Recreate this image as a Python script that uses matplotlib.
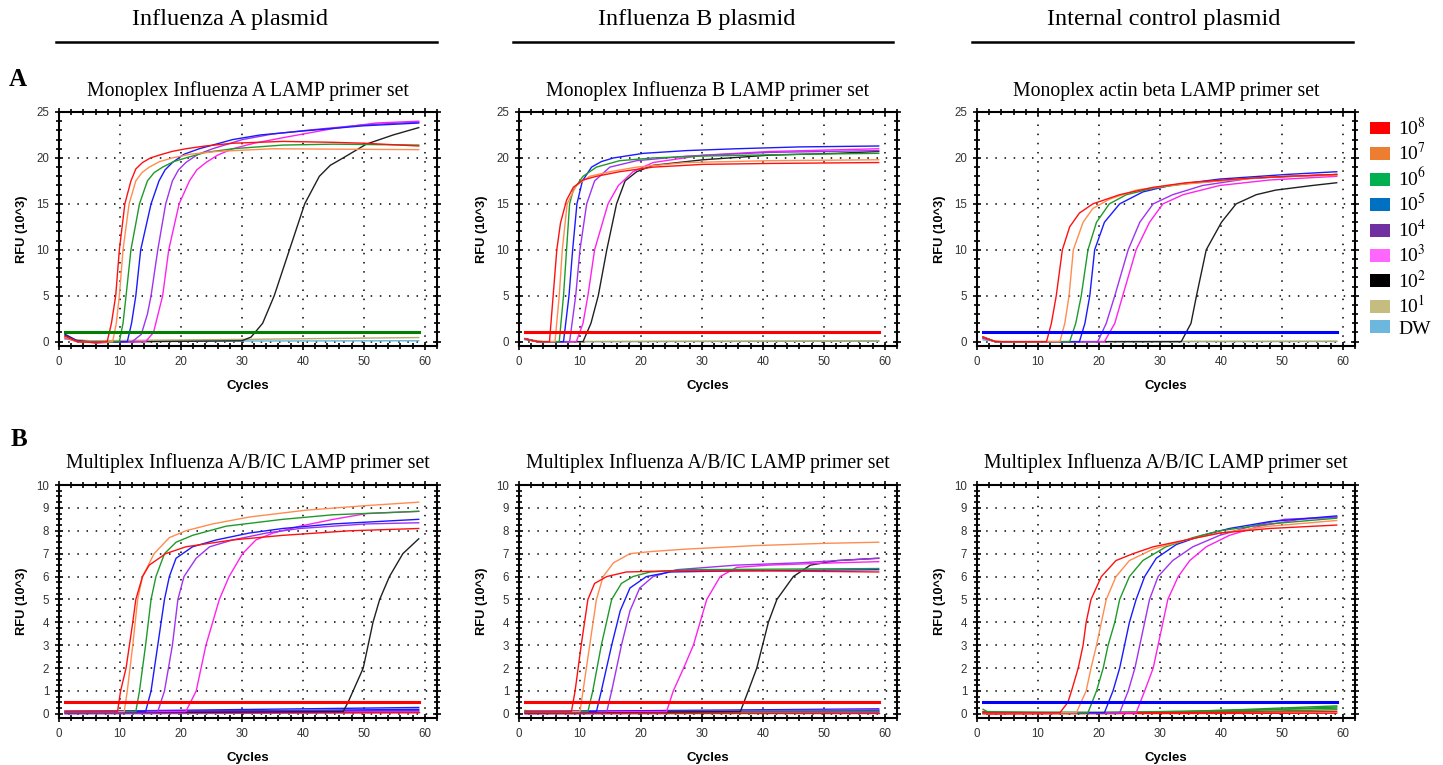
import matplotlib
matplotlib.use('Agg')
import matplotlib.pyplot as plt
from matplotlib.patches import Patch
from matplotlib.ticker import MultipleLocator

# dilution series, legend labels and colours
series = ['1e8', '1e7', '1e6', '1e5', '1e4', '1e3', '1e2', '1e1', 'DW']
legend_labels = ['10$^{8}$', '10$^{7}$', '10$^{6}$', '10$^{5}$', '10$^{4}$',
                 '10$^{3}$', '10$^{2}$', '10$^{1}$', 'DW']
legend_colors = ['#FF0000', '#ED7D31', '#00B050', '#0070C0', '#7030A0',
                 '#FF66FF', '#000000', '#C4BD7F', '#6DB6DE']
line_colors = {'1e8': '#FF1010', '1e7': '#FF8C50', '1e6': '#1E9A2A', '1e5': '#1A1AFF',
               '1e4': '#A033F0', '1e3': '#FF22EE', '1e2': '#202020',
               '1e1': '#B5AC6A', 'DW': '#5FB4DE'}

col_titles = ['Influenza A plasmid', 'Influenza B plasmid', 'Internal control plasmid']
panel_titles = [['Monoplex Influenza A LAMP primer set',
                 'Monoplex Influenza B LAMP primer set',
                 'Monoplex actin beta LAMP primer set'],
                ['Multiplex Influenza A/B/IC LAMP primer set'] * 3]

# curves: (cycle, RFU x10^3)
monoA = {
    '1e8': [(1, 0.6), (3, 0.0), (6, -0.1), (7.9, 0.0), (8.6, 2), (9.3, 5), (9.9, 10), (10.8, 15),
            (11.8, 17.5), (12.6, 18.8), (13.7, 19.5), (15, 20.0), (16.4, 20.3), (18.5, 20.7),
            (20.8, 21.0), (24, 21.3), (28.5, 21.6), (36.7, 21.8), (45, 21.7), (50, 21.6), (59, 21.3)],
    '1e7': [(1, 0.5), (3, 0.0), (6, -0.1), (8.8, 0.0), (9.4, 2), (9.9, 5), (10.5, 10), (11.5, 15),
            (12.6, 17.5), (13.6, 18.4), (14.8, 19.0), (16.5, 19.6), (18.6, 20.0), (21.5, 20.4),
            (25.8, 20.7), (35, 21.0), (59, 20.9)],
    '1e6': [(1, 0.5), (3, 0.0), (6, -0.1), (9.9, 0.0), (10.5, 2), (11, 5), (11.8, 10), (13.2, 15),
            (14.5, 17.5), (15.6, 18.4), (17, 19), (18.8, 19.6), (20.8, 20), (24, 20.6),
            (28.5, 21), (36.7, 21.4), (45, 21.5), (59, 21.4)],
    '1e5': [(1, 0.7), (3, 0.05), (6, -0.1), (11.2, 0.0), (11.9, 2), (12.6, 5), (13.4, 10), (15.1, 15),
            (16.4, 17.5), (17.4, 18.7), (18.6, 19.5), (20.5, 20.4), (23, 21), (28.5, 22),
            (33, 22.5), (39.5, 22.9), (50, 23.5), (59, 23.8)],
    '1e4': [(1, 0.6), (3, 0.05), (6, -0.1), (12, 0.0), (13.5, 0.8), (14.5, 3), (15.1, 5), (16.2, 10),
            (17.5, 15), (18.6, 17.5), (19.6, 18.7), (20.8, 19.5), (22.8, 20.4), (25.2, 21),
            (30.1, 22), (35, 22.6), (40.5, 23), (50, 23.6), (59, 23.9)],
    '1e3': [(1, 0.4), (3, 0.0), (6, -0.1), (14.2, 0.0), (15.5, 1), (17, 5), (18, 10), (19.7, 15),
            (21.4, 17.5), (22.6, 18.7), (24.1, 19.5), (26, 20.3), (28.5, 21), (32, 21.6),
            (36.7, 22.2), (45, 23.2), (52, 23.8), (59, 24.0)],
    '1e2': [(1, 0.8), (3, 0.1), (6, -0.05), (30, 0.1), (31.5, 0.5), (33.4, 2), (35.3, 5), (37.8, 10),
            (40.3, 15), (42.7, 18), (44.5, 19.2), (46.6, 20), (50.4, 21.5), (54.8, 22.5), (59, 23.3)],
    '1e1': [(1, 0.3), (5, 0.1), (30, 0.25), (59, 0.45)],
    'DW': [(1, 0.3), (5, 0.05), (59, 0.1)],
}
monoB = {
    '1e8': [(1, 0.3), (3, 0.0), (5, 0.0), (5.6, 5), (6.2, 10), (6.8, 12.9), (7.8, 15.4), (8.9, 16.8),
            (10.5, 17.6), (12.7, 18), (16.5, 18.5), (22, 19), (30.2, 19.3), (41.2, 19.4), (59, 19.5)],
    '1e7': [(1, 0.3), (3, 0.0), (5.9, 0.0), (6.6, 5), (7.1, 10), (7.9, 15), (9.4, 17), (11.6, 18),
            (14.9, 18.5), (19.3, 19), (27.5, 19.5), (41, 19.7), (59, 19.8)],
    '1e6': [(1, 0.3), (3, 0.0), (6.6, 0.0), (7.3, 5), (7.8, 10), (8.3, 15), (8.9, 16.5), (10.5, 18),
            (12.7, 19), (16.5, 19.7), (22, 20), (30, 20.2), (46, 20.4), (59, 20.5)],
    '1e5': [(1, 0.35), (3, 0.0), (7.3, 0.0), (8.2, 5), (8.8, 10), (9.5, 15), (10.4, 17.5), (11.9, 19),
            (13.5, 19.6), (15.5, 20), (20.4, 20.5), (27.5, 20.8), (35.7, 21), (46, 21.2), (59, 21.3)],
    '1e4': [(1, 0.3), (3, 0.0), (8.3, 0.0), (9.3, 5), (10, 10), (11.1, 15), (12.4, 17.5), (14.9, 19),
            (19.3, 19.7), (27.5, 20.2), (41, 20.6), (59, 20.8)],
    '1e3': [(1, 0.3), (3, 0.0), (9.4, 0.0), (10.5, 2), (11.3, 5), (12.4, 10), (14.6, 15), (16.3, 17),
            (18.7, 18.5), (22, 19.5), (30.2, 20.3), (41, 20.7), (59, 21.0)],
    '1e2': [(1, 0.3), (3, 0.0), (10.5, 0.0), (11.8, 2), (13, 5), (14.4, 10), (16, 15), (17.4, 17.5),
            (19.3, 18.5), (22, 19.2), (30.2, 19.8), (41, 20.3), (52, 20.5), (59, 20.7)],
    '1e1': [(1, 0.3), (4, 0.0), (59, 0.1)],
    'DW': [(1, 0.2), (4, 0.0), (59, 0.05)],
}
monoIC = {
    '1e8': [(1, 0.5), (3, 0.0), (11.4, 0.0), (12.2, 2), (13, 5), (14, 10), (15.2, 12.5), (16.8, 14),
            (19, 15), (23.4, 16), (28.9, 16.8), (34.3, 17.3), (42.5, 17.7), (50.7, 18), (59, 18.2)],
    '1e7': [(1, 0.5), (3, 0.0), (13.6, 0.0), (14.4, 2), (15.1, 5), (15.8, 10), (17.4, 13), (19, 14.5),
            (21.7, 15.5), (26.1, 16.5), (31.6, 17), (39.8, 17.5), (50, 18), (59, 18.1)],
    '1e6': [(1, 0.5), (3, 0.0), (15.2, 0.0), (16.2, 2), (17.1, 5), (18.2, 10), (19.6, 13), (21.7, 15),
            (24.5, 16), (28.9, 16.7), (34.3, 17.2), (45, 17.8), (59, 18.2)],
    '1e5': [(1, 0.5), (3, 0.0), (16.8, 0.0), (17.7, 2), (18.5, 5), (19.3, 10), (20.9, 13), (23.4, 15),
            (27.2, 16.3), (31.6, 17), (39.8, 17.7), (50.7, 18.2), (59, 18.5)],
    '1e4': [(1, 0.4), (3, 0.0), (19.8, 0.0), (21.2, 2), (22.6, 5), (24.8, 10), (26.7, 13), (28.9, 15),
            (32.1, 16), (37, 17), (45, 17.8), (59, 18.2)],
    '1e3': [(1, 0.4), (3, 0.0), (20.9, 0.0), (22.6, 2), (23.9, 5), (26.1, 10), (28.3, 13), (30.5, 15),
            (33.8, 16), (39.8, 17), (48, 17.6), (59, 18.0)],
    '1e2': [(1, 0.5), (3, 0.0), (33.5, 0.0), (35.1, 2), (36, 5), (37.6, 10), (40.1, 13), (42.5, 15),
            (45.8, 16), (49, 16.5), (55, 17), (59, 17.3)],
    '1e1': [(1, 0.3), (4, 0.0), (59, 0.05)],
    'DW': [(1, 0.2), (4, 0.0), (59, 0.02)],
}
multiA = {
    '1e8': [(1, 0.1), (9.6, 0.1), (10.1, 1), (11, 2), (12.1, 4), (12.6, 5), (13.7, 6), (14.8, 6.5),
            (17.5, 7), (20.8, 7.3), (28.5, 7.6), (36.7, 7.8), (47.7, 8.0), (59, 8.1)],
    '1e7': [(1, 0.1), (10.7, 0.1), (11.2, 1), (12.1, 3), (12.9, 5), (13.7, 6), (15.6, 7), (18.1, 7.7),
            (20.8, 8.0), (25.2, 8.3), (31.2, 8.6), (40.5, 8.9), (50.4, 9.1), (59, 9.25)],
    '1e6': [(1, 0.1), (12.6, 0.1), (13.2, 1), (14.2, 3), (15.1, 5), (15.9, 6), (17.3, 7), (19.2, 7.5),
            (21.9, 7.8), (27.4, 8.2), (36.7, 8.5), (45, 8.7), (59, 8.85)],
    '1e5': [(1, 0.1), (14.2, 0.1), (15.1, 1), (16.2, 3), (17.3, 5), (18.1, 6), (19.2, 6.8), (21.9, 7.3),
            (25.8, 7.6), (31.2, 7.9), (36.7, 8.1), (45, 8.3), (59, 8.5)],
    '1e4': [(1, 0.1), (16.2, 0.1), (17.3, 1), (18.6, 3), (19.5, 5), (20.5, 6), (22.5, 6.8), (24.7, 7.3),
            (28.5, 7.6), (34, 7.9), (39.5, 8.1), (50.4, 8.3), (59, 8.35)],
    '1e3': [(1, 0.1), (20.8, 0.1), (22.5, 1), (24.1, 3), (26.3, 5), (27.9, 6), (30.1, 7), (32.3, 7.6),
            (35.1, 7.9), (39.5, 8.2), (45, 8.5), (50.4, 8.75), (59, 8.85)],
    '1e2': [(1, 0.05), (46.6, 0.1), (47.4, 0.5), (49.9, 2), (51.5, 4), (52.6, 5), (54.2, 6), (56.4, 7),
            (59, 7.65)],
}
multiB = {
    '1e8': [(1, 0.1), (8.6, 0.1), (9.2, 1), (10.2, 3), (11.3, 5), (12.4, 5.7), (14.4, 6.0), (17.6, 6.2),
            (24.8, 6.25), (40, 6.25), (59, 6.2)],
    '1e7': [(1, 0.1), (10, 0.1), (10.5, 1), (11.6, 3), (12.7, 5), (13.8, 6), (15.5, 6.6), (18.2, 7.0),
            (22, 7.1), (27.5, 7.2), (38.5, 7.35), (50, 7.45), (59, 7.5)],
    '1e6': [(1, 0.1), (11.3, 0.1), (12.1, 1), (13.5, 3), (15.2, 5), (16.8, 5.7), (18.7, 6.0), (21.5, 6.2),
            (27.5, 6.3), (59, 6.35)],
    '1e5': [(1, 0.1), (12.7, 0.1), (13.5, 1), (15.2, 3), (16.6, 4.5), (18.2, 5.5), (20.9, 6.0),
            (24.8, 6.2), (36, 6.25), (59, 6.3)],
    '1e4': [(1, 0.1), (14.4, 0.1), (15.2, 1), (16.8, 3), (18.2, 4.5), (19.8, 5.5), (22, 6.0), (25.9, 6.3),
            (35.7, 6.5), (46, 6.6), (59, 6.8)],
    '1e3': [(1, 0.1), (24.2, 0.1), (25.3, 1), (27, 2), (28.6, 3), (29.7, 4), (30.8, 5), (33, 6),
            (35.7, 6.4), (41, 6.5), (52, 6.6), (59, 6.65)],
    '1e2': [(1, 0.05), (36.3, 0.1), (37.6, 1), (39, 2), (40.9, 4), (42.3, 5), (45, 6), (47.8, 6.5),
            (52.2, 6.7), (59, 6.8)],
}
multiIC = {
    '1e8': [(1, 0.05), (13.6, 0.05), (14.9, 0.5), (15.5, 1), (16.6, 2), (17.4, 3), (17.9, 4), (18.7, 5),
            (20.4, 6), (22.8, 6.7), (25.6, 7.0), (28.9, 7.3), (34.3, 7.6), (39.8, 7.9), (48, 8.1),
            (59, 8.25)],
    '1e7': [(1, 0.05), (16.3, 0.05), (17.9, 1), (18.7, 2), (19.6, 3), (20.4, 4), (21.2, 5), (22.8, 6),
            (25, 6.7), (28.9, 7.2), (34.3, 7.6), (39.8, 7.9), (48, 8.2), (59, 8.45)],
    '1e6': [(1, 0.05), (18.2, 0.05), (19.6, 1), (20.7, 2), (21.5, 3), (22.6, 4), (23.4, 5), (25, 6),
            (27.2, 6.7), (31, 7.3), (35.4, 7.7), (39.8, 8.0), (48, 8.3), (59, 8.55)],
    '1e5': [(1, 0.05), (20.9, 0.05), (22.3, 1), (23.4, 2), (24.2, 3), (25, 4), (26.1, 5), (27.5, 6),
            (29.4, 6.8), (32.7, 7.4), (37, 7.8), (41.4, 8.1), (48, 8.4), (59, 8.65)],
    '1e4': [(1, 0.05), (23.4, 0.05), (24.8, 1), (25.9, 2), (26.7, 3), (27.5, 4), (28.3, 5), (29.7, 6),
            (32.1, 6.7), (35.4, 7.3), (39.8, 7.8), (45, 8.2), (50.4, 8.5), (59, 8.6)],
    '1e3': [(1, 0.05), (26.1, 0.05), (27.5, 1), (28.9, 2), (29.7, 3), (30.5, 4), (31.3, 5), (33, 6),
            (34.9, 6.7), (37.6, 7.3), (41.4, 7.8), (46.3, 8.2), (53, 8.5), (59, 8.6)],
}

# flat baselines of the other channels in the multiplex runs
multiA_base = [('#1A1AFF', [(1, 0.1), (59, 0.28)]), ('#1A1AFF', [(1, 0.05), (59, 0.2)]),
               ('#1A1AFF', [(1, 0.12), (59, 0.15)]), ('#A033F0', [(1, 0.1), (59, 0.12)]),
               ('#A033F0', [(1, 0.0), (59, 0.05)]), ('#FF1010', [(1, 0.1), (59, 0.1)])]
multiB_base = [('#1A1AFF', [(1, 0.1), (59, 0.22)]), ('#1A1AFF', [(1, 0.05), (59, 0.15)]),
               ('#1A1AFF', [(1, 0.12), (59, 0.1)]), ('#A033F0', [(1, 0.05), (59, 0.18)]),
               ('#A033F0', [(1, 0.0), (59, 0.05)]),
               ('#1E9A2A', [(1, 0.15), (3, 0.05), (59, 0.1)]), ('#FF1010', [(1, 0.05), (59, 0.05)])]
multiIC_base = [('#1E9A2A', [(1, 0.2), (2, 0.05), (30, 0.05), (59, 0.35)]),
                ('#1E9A2A', [(1, 0.1), (20, 0.05), (59, 0.25)]),
                ('#1E9A2A', [(1, 0.05), (40, 0.1), (59, 0.3)]),
                ('#1E9A2A', [(1, 0.05), (30, 0.03), (59, 0.18)]),
                ('#FF1010', [(1, 0.1), (2, 0.0), (59, 0.1)]),
                ('#FF1010', [(1, 0.0), (59, 0.03)])]

# threshold lines: (colour, RFU)
thresholds = [[('#008000', 1.0), ('#FF0000', 1.0), ('#0000FF', 1.0)],
              [('#FF0000', 0.5), ('#FF0000', 0.5), ('#0000FF', 0.5)]]

panels = [[(monoA, []), (monoB, []), (monoIC, [])],
          [(multiA, multiA_base), (multiB, multiB_base), (multiIC, multiIC_base)]]

plt.rcParams['mathtext.fontset'] = 'stix'
serif = 'Liberation Serif'
sans = 'Liberation Sans'

fig = plt.figure(figsize=(14.43, 7.65), dpi=100)
W, H = 1443.0, 765.0

col_left = [59, 519, 977]
col_width = 378
row_top = [112, 485]
row_bottom = [346, 718]
ylims = [(-0.47, 25), (-0.18, 10)]
ymajor = [5, 1]
yminor = [1, 0.25]

for r in range(2):
    for c in range(3):
        ax = fig.add_axes([col_left[c] / W, 1 - row_bottom[r] / H,
                           col_width / W, (row_bottom[r] - row_top[r]) / H])
        curves, base = panels[r][c]
        for col, pts in base:
            ax.plot([p[0] for p in pts], [p[1] for p in pts], color=col, lw=1.0)
        for name in reversed(series):
            if name in curves:
                pts = curves[name]
                ax.plot([p[0] for p in pts], [p[1] for p in pts],
                        color=line_colors[name], lw=1.0)
        tcol, tval = thresholds[r][c]
        ax.plot([1, 59], [tval, tval], color=tcol, lw=2.2)

        ax.set_xlim(0, 62)
        ax.set_ylim(*ylims[r])
        ax.xaxis.set_major_locator(MultipleLocator(10))
        ax.xaxis.set_minor_locator(MultipleLocator(2))
        ax.yaxis.set_major_locator(MultipleLocator(ymajor[r]))
        ax.yaxis.set_minor_locator(MultipleLocator(yminor[r]))
        ax.grid(True, which='major', color='black', linestyle=(0, (1, 5)), lw=1.1)
        ax.tick_params(which='both', direction='inout', top=True, right=True,
                       labelsize=8.3, labelcolor='#333333', width=1.2)
        ax.tick_params(which='major', length=6, pad=4)
        ax.tick_params(which='minor', length=4)
        for lab in ax.get_xticklabels() + ax.get_yticklabels():
            lab.set_fontfamily(sans)
        for s in ax.spines.values():
            s.set_linewidth(1.5)
        ax.set_xlabel('Cycles', fontsize=9.5, fontweight='bold', family=sans, labelpad=9)
        ax.set_ylabel('RFU (10^3)', fontsize=9.3, fontweight='bold', family=sans, labelpad=6)
        ax.text(0.5, 1.088 if r == 0 else 1.094, panel_titles[r][c], transform=ax.transAxes,
                ha='center', va='center', fontsize=14.2, family=serif)

# column headers with rules under them
header_x = [230, 697, 1164]
rules = [(56, 437), (513, 893), (972, 1353)]
for txt, hx, (x0, x1) in zip(col_titles, header_x, rules):
    fig.text(hx / W, 1 - 19 / H, txt, ha='center', va='center', fontsize=17.5, family=serif)
    fig.add_artist(plt.Line2D([x0 / W, x1 / W], [1 - 42 / H, 1 - 42 / H], color='black', lw=1.8))

fig.text(18 / W, 1 - 79 / H, 'A', ha='center', va='center', fontsize=18, fontweight='bold', family=serif)
fig.text(19 / W, 1 - 440 / H, 'B', ha='center', va='center', fontsize=18, fontweight='bold', family=serif)

handles = [Patch(facecolor=c, edgecolor='none') for c in legend_colors]
fig.legend(handles, legend_labels, loc='upper left', bbox_to_anchor=(1360 / W, 1 - 107 / H),
           frameon=False, borderpad=0, handlelength=1.05, handleheight=0.65,
           handletextpad=0.4, labelspacing=0.17, prop={'family': serif, 'size': 14})

fig.savefig('out.png', dpi=100)
